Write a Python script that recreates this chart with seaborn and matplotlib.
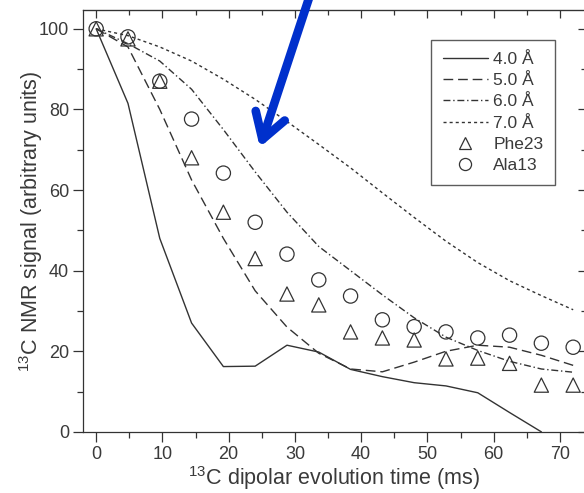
import numpy as np
import pandas as pd
import matplotlib
matplotlib.use("Agg")
import matplotlib.pyplot as plt
import seaborn as sns

# evolution times (ms)
time_ms = [0, 4.8, 9.6, 14.4, 19.2, 24.0, 28.8, 33.6, 38.4, 43.2, 48.0, 52.8, 57.6, 62.4, 67.2, 72.0]

# experimental points
phe23 = [100, 97.5, 87, 68, 54.5, 43, 34.2, 31.5, 24.8, 23.3, 22.8, 18.1, 18.3, 17, 11.6, 11.6]
ala13 = [100, 98, 87, 77.6, 64.2, 52, 44.1, 37.7, 33.7, 27.8, 26.1, 24.8, 23.3, 24, 22, 21]

# simulated curves for each distance
curve_40 = [100, 81.5, 48, 27, 16.2, 16.3, 21.5, 19.8, 15.5, 13.7, 12.2, 11.4, 9.7, 4.8, 0, np.nan]
curve_50 = [100, 95.5, 80, 62.5, 48, 35, 26, 19.5, 15.6, 14.9, 17.3, 20, 21.5, 21, 19, 16.5]
curve_60 = [100, 96.3, 92, 85, 75, 64.5, 54.5, 46, 40, 34, 28.3, 23.5, 20.2, 17.5, 15.6, 14.8]
curve_70 = [100, 98.3, 95.5, 92, 87.5, 82.5, 77, 71.3, 65.5, 59.3, 53.2, 47.3, 42, 37.5, 33.8, 30.3]

distances = ["4.0 Å", "5.0 Å", "6.0 Å", "7.0 Å"]

sns.set_style("ticks")
plt.rcParams["font.family"] = ["Liberation Sans", "DejaVu Sans"]
plt.rcParams["mathtext.default"] = "regular"

curves = pd.DataFrame({
    "time": time_ms * 4,
    "signal": curve_40 + curve_50 + curve_60 + curve_70,
    "distance": sum([[d] * len(time_ms) for d in distances], []),
})
points = pd.DataFrame({
    "time": time_ms * 2,
    "signal": phe23 + ala13,
    "residue": ["Phe23"] * len(time_ms) + ["Ala13"] * len(time_ms),
})

ink = "#333333"
txt = "#3a3a3a"
fig = plt.figure(figsize=(5.84, 4.93), dpi=100)
ax = fig.add_axes([0.142, 0.124, 0.861, 0.856])

sns.lineplot(
    data=curves, x="time", y="signal", style="distance",
    dashes={"4.0 Å": "", "5.0 Å": (7, 3.5), "6.0 Å": (5, 2, 1, 2), "7.0 Å": (2.2, 2.2)},
    color=ink, linewidth=1.0, ax=ax, legend=True,
)
sns.scatterplot(
    data=points, x="time", y="signal", style="residue",
    markers={"Phe23": "^", "Ala13": "o"}, s=105,
    facecolor="none", edgecolor=ink, linewidth=0.9, color=ink, ax=ax, legend=True,
)

ax.set_xlim(-2, 73.9)
ax.set_ylim(0, 104.7)
ax.set_xticks(np.arange(0, 71, 10))
ax.set_xticks(np.arange(5, 75, 10), minor=True)
ax.set_yticks(np.arange(0, 101, 20))
ax.set_yticks(np.arange(10, 101, 20), minor=True)
ax.tick_params(which="major", direction="out", length=7, width=0.9, labelsize=13,
               colors=ink, labelcolor=txt, pad=3)
ax.tick_params(which="minor", direction="out", length=4, width=0.9, colors=ink)
for side in ["top", "right"]:
    ax.spines[side].set_visible(True)
for sp in ax.spines.values():
    sp.set_color(ink)
    sp.set_linewidth(0.9)

top = ax.secondary_xaxis("top")
top.set_xticks(np.arange(0, 71, 10))
top.set_xticks(np.arange(5, 75, 10), minor=True)
top.tick_params(which="major", direction="in", length=6, width=0.9, colors=ink, labeltop=False)
top.tick_params(which="minor", direction="in", length=3.5, width=0.9, colors=ink)
top.set_xticklabels([])
right = ax.secondary_yaxis("right")
right.set_yticks(np.arange(0, 101, 20))
right.set_yticks(np.arange(10, 101, 20), minor=True)
right.tick_params(which="major", direction="in", length=6, width=0.9, colors=ink, labelright=False)
right.tick_params(which="minor", direction="in", length=3.5, width=0.9, colors=ink)
right.set_yticklabels([])

ax.set_xlabel("$^{13}$C dipolar evolution time (ms)", fontsize=15.5, color=txt)
ax.set_ylabel("$^{13}$C NMR signal (arbitrary units)", fontsize=15.5, color=txt)
ax.xaxis.set_label_coords(0.5, -0.077)
ax.yaxis.set_label_coords(-0.075, 0.5)

handles, labels = ax.get_legend_handles_labels()
keep = [i for i, l in enumerate(labels) if l in distances + ["Phe23", "Ala13"]]
handles = [handles[i] for i in keep]
labels = [labels[i] for i in keep]
leg = ax.legend(handles, labels, loc="upper right", bbox_to_anchor=(0.957, 0.95),
                fontsize=12.5, handlelength=2.6, handletextpad=0.3, labelspacing=0.35,
                borderpad=0.7, frameon=True, fancybox=False, edgecolor=ink,
                markerscale=0.85)
leg.get_frame().set_linewidth(1.0)
for t in leg.get_texts():
    t.set_color(txt)

# blue arrow pointing at the 6.0 Å curve
ax.annotate("", xy=(24.7, 70.6), xytext=(32.3, 108.5), annotation_clip=False,
            arrowprops=dict(arrowstyle="->,head_length=1.8,head_width=1.1",
                            color="#0030cc", lw=6.2, shrinkA=0, shrinkB=0,
                            joinstyle="round", capstyle="round"))

fig.savefig("out.png", dpi=100)
